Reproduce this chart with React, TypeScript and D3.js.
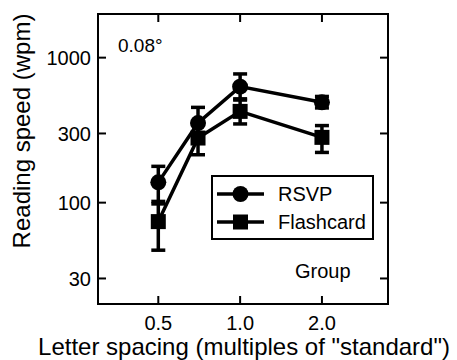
import React from "react";
import * as d3 from "d3";

const spacing = [0.5, 0.7, 1.0, 2.0];
const rsvp = [138, 354, 631, 492];
const rsvpLo = [102, 280, 510, 450];
const rsvpHi = [178, 454, 772, 540];
const flash = [74, 279, 426, 282];
const flashLo = [47, 214, 349, 222];
const flashHi = [98, 360, 520, 340];

const xTicks = [0.5, 1.0, 2.0];
const xTickLabels = ["0.5", "1.0", "2.0"];
const yTicks = [30, 100, 300, 1000];
const yTickLabels = ["30", "100", "300", "1000"];

const W = 457;
const H = 360;
const left = 98, right = 388, top = 14, bottom = 304;
const FONT = "'Liberation Sans', Arial, Helvetica, sans-serif";

export default function App() {
  const x = d3.scaleLog().base(2).domain([0.3, 3.5]).range([left, right]);
  const y = d3.scaleLog().domain([20, 2000]).range([bottom, top]);
  const line = d3.line<number>().x((_, i) => x(spacing[i])).y((v) => y(v));

  const series = [
    { name: "Flashcard", vals: flash, lo: flashLo, hi: flashHi, shape: "square" },
    { name: "RSVP", vals: rsvp, lo: rsvpLo, hi: rsvpHi, shape: "circle" },
  ];

  const marker = (shape: string, cx: number, cy: number, key: string) =>
    shape === "circle" ? (
      <circle key={key} cx={cx} cy={cy} r={8} fill="#000" />
    ) : (
      <rect key={key} x={cx - 7.5} y={cy - 7.5} width={15} height={15} fill="#000" />
    );

  const tl = 8;
  const capW = 7;

  return (
    <svg width={W} height={H} style={{ position: "absolute", left: 0, top: 0, background: "#fff" }}>
      <rect x={0} y={0} width={W} height={H} fill="#fff" />
      {/* frame */}
      <rect x={left} y={top} width={right - left} height={bottom - top} fill="none" stroke="#000" strokeWidth={2} />
      {/* ticks */}
      {xTicks.map((t, i) => (
        <g key={"xt" + i}>
          <line x1={x(t)} x2={x(t)} y1={bottom} y2={bottom - tl} stroke="#000" strokeWidth={2} />
          <line x1={x(t)} x2={x(t)} y1={top} y2={top + tl} stroke="#000" strokeWidth={2} />
          <text x={x(t)} y={330} textAnchor="middle" fontFamily={FONT} fontSize={20}>{xTickLabels[i]}</text>
        </g>
      ))}
      {yTicks.map((t, i) => (
        <g key={"yt" + i}>
          <line x1={left} x2={left + tl} y1={y(t)} y2={y(t)} stroke="#000" strokeWidth={2} />
          <line x1={right} x2={right - tl} y1={y(t)} y2={y(t)} stroke="#000" strokeWidth={2} />
          <text x={91} y={y(t)} dy="0.36em" textAnchor="end" fontFamily={FONT} fontSize={20}>{yTickLabels[i]}</text>
        </g>
      ))}
      {/* lines */}
      {series.map((s) => (
        <path key={"l" + s.name} d={line(s.vals) || ""} fill="none" stroke="#000" strokeWidth={3.5} />
      ))}
      {/* error bars */}
      {series.map((s) =>
        s.vals.map((v, i) => {
          const cx = x(spacing[i]);
          return (
            <g key={"e" + s.name + i} stroke="#000" strokeWidth={3.5}>
              <line x1={cx} x2={cx} y1={y(s.lo[i])} y2={y(s.hi[i])} />
              <line x1={cx - capW} x2={cx + capW} y1={y(s.lo[i])} y2={y(s.lo[i])} />
              <line x1={cx - capW} x2={cx + capW} y1={y(s.hi[i])} y2={y(s.hi[i])} />
            </g>
          );
        })
      )}
      {/* markers */}
      {series.map((s) => s.vals.map((v, i) => marker(s.shape, x(spacing[i]), y(v), "m" + s.name + i)))}
      {/* legend */}
      <rect x={212} y={176} width={161} height={63} fill="#fff" stroke="#000" strokeWidth={2} />
      <line x1={217} x2={264} y1={194} y2={194} stroke="#000" strokeWidth={3.5} />
      {marker("circle", 240.5, 194, "lg1")}
      <text x={278} y={201} fontFamily={FONT} fontSize={20}>RSVP</text>
      <line x1={217} x2={264} y1={222} y2={222} stroke="#000" strokeWidth={3.5} />
      {marker("square", 240.5, 222, "lg2")}
      <text x={278} y={229} fontFamily={FONT} fontSize={20}>Flashcard</text>
      {/* annotations */}
      <text x={118} y={52} fontFamily={FONT} fontSize={19}>0.08°</text>
      <text x={295} y={278} fontFamily={FONT} fontSize={20}>Group</text>
      {/* axis titles */}
      <text x={244} y={355} textAnchor="middle" fontFamily={FONT} fontSize={24}>Letter spacing (multiples of "standard")</text>
      <text transform={`translate(30,131) rotate(-90)`} textAnchor="middle" fontFamily={FONT} fontSize={24}>Reading speed (wpm)</text>
    </svg>
  );
}
